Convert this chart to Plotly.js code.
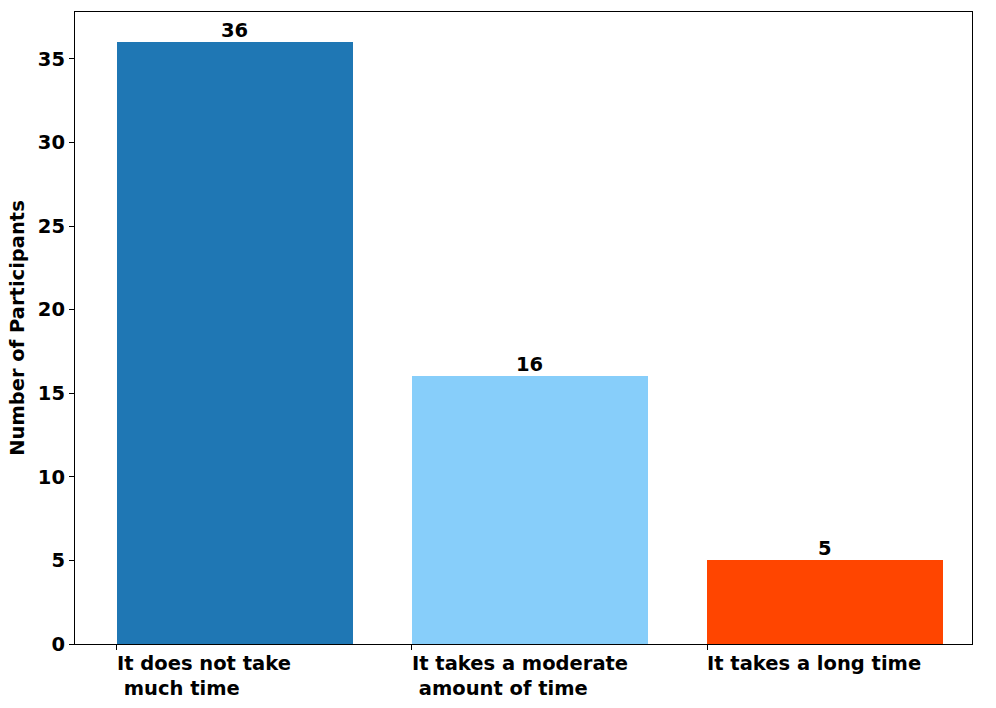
<!DOCTYPE html>
<html>
<head>
<meta charset="utf-8">
<script src="https://cdn.plot.ly/plotly-3.0.1.min.js"></script>
<style>
  html, body { margin: 0; padding: 0; background: #ffffff; }
  #chart { width: 996px; height: 708px; }
</style>
</head>
<body>
<div id="chart"></div>
<script>
// categories and values
const categories = ["It does not take<br>\u00a0much time", "It takes a moderate<br>\u00a0amount of time", "It takes a long time"];
const positions = [0, 1, 2];
const participants = [36, 16, 5];
const barColors = ["#1f77b4", "#87cefa", "#ff4500"];
const yTicks = [0, 5, 10, 15, 20, 25, 30, 35];

const barWidth = 0.8;
const boldFont = { family: "DejaVu Sans, sans-serif", size: 19.5, color: "#000000", weight: "bold" };

let trace = {
    type: "bar",
    x: positions,
    y: participants,
    width: barWidth,
    marker: { color: barColors, line: { width: 0 } },
    hoverinfo: "skip"
};

// value labels above each bar
let annotations = positions.map((p, i) => ({
    x: p,
    y: participants[i],
    xref: "x",
    yref: "y",
    text: String(participants[i]),
    showarrow: false,
    xanchor: "center",
    yanchor: "bottom",
    yshift: -2,
    font: boldFont
}));

// tick labels sit left-aligned on the bar's left edge
positions.forEach((p, i) => {
    annotations.push({
        x: p - barWidth / 2,
        y: 0,
        xref: "x",
        yref: "paper",
        text: categories[i],
        showarrow: false,
        xanchor: "left",
        yanchor: "top",
        align: "left",
        yshift: -6,
        xshift: -2,
        font: boldFont
    });
});

let layout = {
    width: 996,
    height: 708,
    margin: { l: 75, r: 24, t: 12, b: 64 },
    paper_bgcolor: "#ffffff",
    plot_bgcolor: "#ffffff",
    showlegend: false,
    bargap: 0,
    xaxis: {
        range: [-0.542, 2.498],
        tickvals: positions.map(p => p - barWidth / 2),
        ticktext: positions.map(() => ""),
        ticks: "outside",
        ticklen: 5,
        tickwidth: 1,
        tickcolor: "#000000",
        showgrid: false,
        zeroline: false,
        showline: true,
        linecolor: "#000000",
        linewidth: 1.2,
        mirror: true,
        fixedrange: true
    },
    yaxis: {
        range: [0, 37.8],
        tickvals: yTicks,
        ticks: "outside",
        ticklen: 5,
        tickwidth: 1,
        tickcolor: "#000000",
        tickfont: boldFont,
        showgrid: false,
        zeroline: false,
        showline: true,
        linecolor: "#000000",
        linewidth: 1.2,
        mirror: true,
        title: { text: "Number of Participants", font: boldFont, standoff: 8 },
        fixedrange: true
    },
    annotations: annotations
};

Plotly.newPlot("chart", [trace], layout, { displayModeBar: false, responsive: false });
</script>
</body>
</html>
